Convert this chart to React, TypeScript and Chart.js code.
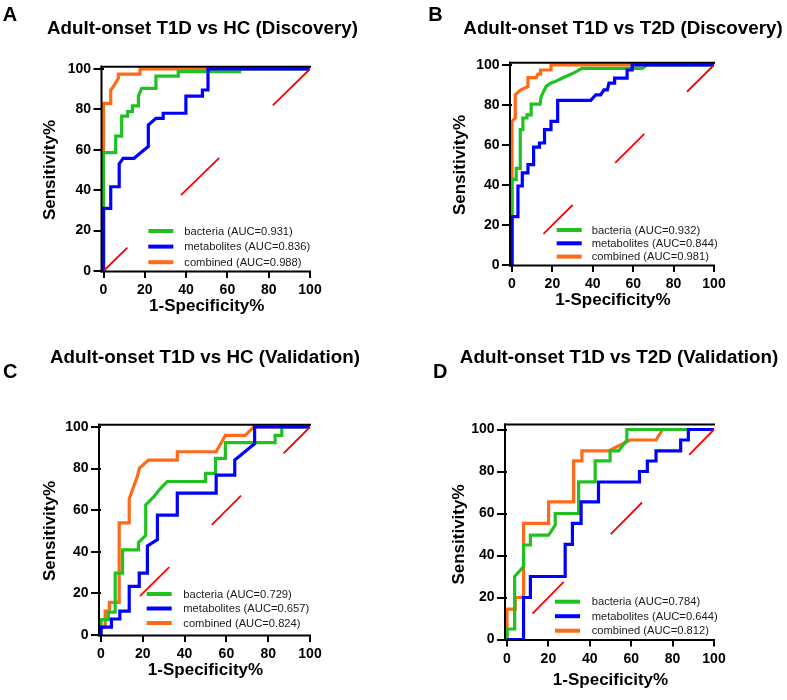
import React, { useEffect, useRef } from "react";
import { Chart, registerables } from "chart.js";

Chart.register(...registerables);

const FONT = "'Liberation Sans', Arial, Helvetica, sans-serif";

// ---------------- data ----------------
const TICK_VALUES = [0, 20, 40, 60, 80, 100];
const SERIES_NAMES = ["bacteria", "metabolites", "combined"];
const X_TITLE = "1-Specificity%";
const Y_TITLE = "Sensitivity%";
const PANEL_LETTERS = ["A", "B", "C", "D"];
const PANEL_TITLES = [
  "Adult-onset T1D vs HC (Discovery)",
  "Adult-onset T1D vs T2D (Discovery)",
  "Adult-onset T1D vs HC (Validation)",
  "Adult-onset T1D vs T2D (Validation)",
];

const AUC_A = [0.931, 0.836, 0.988];
const AUC_B = [0.932, 0.844, 0.981];
const AUC_C = [0.729, 0.657, 0.824];
const AUC_D = [0.784, 0.644, 0.812];

// reference (chance) line, drawn from (100,100) to (0,0)
const REFERENCE_X = [100, 0];
const REFERENCE_Y = [100, 0];

// Panel A
const A_BACTERIA_FPR = [0, 0, 5.9, 5.9, 8.8, 8.8, 11.7, 11.7, 14, 14, 16.9, 16.9, 18.5, 25.4, 25.4, 36.2, 36.2, 65.9, 65.9, 100];
const A_BACTERIA_TPR = [0, 58.6, 58.6, 66.8, 66.8, 76.7, 76.7, 78.9, 78.9, 81.7, 81.7, 86.6, 90.4, 90.4, 96.5, 96.5, 98.7, 98.7, 100, 100];
const A_METAB_FPR = [0, 0, 3.5, 3.5, 7.6, 7.6, 9.5, 14.8, 17.7, 21.7, 21.7, 25.4, 28.9, 28.9, 39.9, 39.9, 47.9, 47.9, 50.6, 50.6, 100];
const A_METAB_TPR = [0, 31, 31, 41.7, 41.7, 53, 55.8, 55.8, 58.3, 61.6, 72.3, 75.6, 75.6, 78.1, 78.1, 86.6, 86.6, 89.6, 89.6, 100, 100];
const A_COMB_FPR = [0, 0, 3.5, 3.5, 4.8, 7.2, 7.2, 17.7, 17.7, 100];
const A_COMB_TPR = [0, 83, 83, 89.6, 91.3, 95.4, 97.5, 97.5, 100, 100];

// Panel B
const B_BACTERIA_FPR = [0, 0, 2.1, 2.1, 4.1, 4.1, 5.4, 5.4, 7.4, 7.4, 9.5, 9.5, 13.9, 14.4, 16.1, 16.9, 19.3, 21.4, 24.7, 27.2, 31.3, 34.6, 64.5, 66.9, 100];
const B_BACTERIA_TPR = [0, 42.8, 42.8, 48.3, 48.3, 67.7, 67.7, 73.5, 73.5, 75.1, 75.1, 80.4, 80.4, 84.1, 87.6, 89.3, 91, 91.7, 93.4, 94.5, 96.4, 98.3, 98.3, 100, 100];
const B_METAB_FPR = [0, 0, 2.95, 2.95, 5.1, 5.1, 7.9, 7.9, 10.7, 10.7, 13.6, 13.6, 16.1, 16.1, 19.3, 19.3, 22.6, 22.6, 39, 41.5, 43.9, 45.5, 47.2, 48, 50.8, 50.8, 57, 57, 59.5, 59.5, 100];
const B_METAB_TPR = [0, 24.2, 24.2, 39.5, 39.5, 46.1, 46.1, 50.2, 50.2, 58.9, 58.9, 61, 61, 67.7, 67.7, 71.8, 71.8, 82.3, 82.3, 85.1, 85.1, 87.6, 87.6, 90.9, 90.9, 93.4, 93.4, 97.5, 97.5, 100, 100];
const B_COMB_FPR = [0, 0, 1.6, 1.6, 4.3, 7.9, 7.9, 12, 12.8, 14.1, 14.1, 19.3, 19.3, 100];
const B_COMB_TPR = [0, 71.8, 73.5, 85.1, 87.6, 89.2, 93.7, 93.7, 95.4, 95.4, 97.5, 97.5, 100, 100];

// Panel C
const C_BACTERIA_FPR = [0, 0, 3.5, 3.5, 6.8, 6.8, 10.3, 10.3, 17.9, 17.9, 21.4, 21.4, 25.4, 28.3, 31.7, 50, 50, 54.8, 54.8, 59.5, 59.5, 83.3, 83.3, 86.5, 86.5, 100];
const C_BACTERIA_TPR = [0, 7.4, 7.4, 11, 11, 29.7, 29.7, 40.9, 40.9, 44.4, 47.9, 62.6, 66.6, 70.3, 73.8, 73.8, 77.7, 77.7, 84.9, 84.9, 92.5, 92.5, 96, 96, 100, 100];
const C_METAB_FPR = [0, 0, 5, 5, 9, 9, 13.5, 13.5, 18.3, 18.3, 22.2, 22.2, 27, 27, 36.5, 36.5, 55.1, 55.1, 64, 64, 73.5, 73.5, 100];
const C_METAB_TPR = [0, 3.8, 3.8, 7.7, 7.7, 11.5, 11.5, 23.4, 23.4, 29.7, 29.7, 42.8, 45.9, 57.6, 57.6, 68.2, 68.2, 76.9, 76.9, 84.1, 92, 100, 100];
const C_COMB_FPR = [0, 0, 2, 2, 4, 4, 8.7, 8.7, 13.5, 13.5, 17.5, 18.3, 22.7, 36.5, 36.5, 55.1, 59.5, 69, 73, 100];
const C_COMB_TPR = [0, 3.8, 3.8, 11.5, 11.5, 15.7, 15.7, 53.9, 53.9, 65.5, 76.6, 80.1, 84.1, 84.1, 88.1, 88.1, 96, 96, 100, 100];

// Panel D
const D_BACTERIA_FPR = [0, 0, 3.7, 3.7, 8, 8, 11.3, 11.3, 20.1, 23.3, 23.3, 34.6, 34.6, 42.6, 42.6, 49.8, 49.8, 53.9, 57.9, 57.9, 100];
const D_BACTERIA_TPR = [0, 5, 5, 30, 34.7, 45, 45, 49.7, 49.7, 54.5, 60, 60, 75.1, 75.1, 85.1, 85.1, 89.8, 89.8, 94.9, 100, 100];
const D_METAB_FPR = [0, 8, 8, 11.3, 11.3, 28.1, 28.1, 31.6, 31.6, 35.8, 35.8, 44.2, 44.2, 64, 64, 67.8, 67.8, 72, 72, 83.9, 83.9, 87.6, 87.6, 100];
const D_METAB_TPR = [0, 0, 20, 20, 30, 30, 45.3, 45.3, 55.3, 55.3, 65.5, 65.5, 75, 75, 80, 80, 85, 85, 89.8, 89.8, 95, 95, 100, 100];
const D_COMB_FPR = [0, 0, 4, 4, 8, 8, 20.1, 20.1, 32.2, 32.2, 36.2, 36.2, 49, 59.5, 72, 75.2, 100];
const D_COMB_TPR = [0, 14.5, 14.5, 20, 20, 55.3, 55.3, 65.5, 65.5, 85.1, 85.1, 89.8, 89.8, 95, 95, 100, 100];

// ---------------- styles ----------------
const SERIES_COLORS = ["#20c220", "#0000ff", "#ff6a18"];
const SERIES_ORDER = [2, 1, 3]; // blue on top, then green, orange beneath
const REF_COLOR = "#ff0000";

type Box = { left: number; top: number; width: number; height: number };
type Area = { left: number; right: number; top: number; bottom: number };
type PanelSpec = {
  letter: string;
  title: string;
  auc: number[];
  curves: [number[], number[]][];
  box: Box;
  area: Area;
  yTitleX: number;
  xTitleOffset: number;
  topGap: number;
  titleX: number;
  titleBaseline: number;
  letterX: number;
  letterBaseline: number;
  legend: { sampleX: number; firstRow: number; rowGap: number; textGap: number };
  dash: number[];
  dashOffset: number;
};

const PANELS: PanelSpec[] = [
  {
    letter: PANEL_LETTERS[0],
    title: PANEL_TITLES[0],
    auc: AUC_A,
    curves: [
      [A_BACTERIA_FPR, A_BACTERIA_TPR],
      [A_METAB_FPR, A_METAB_TPR],
      [A_COMB_FPR, A_COMB_TPR],
    ],
    box: { left: 0, top: 0, width: 393, height: 340 },
    area: { left: 103.5, right: 310, top: 69, bottom: 271 },
    yTitleX: 50.5,
    xTitleOffset: 35.5,
    topGap: 2.3,
    titleX: 202.4,
    titleBaseline: 33.5,
    letterX: 2.7,
    letterBaseline: 20.7,
    legend: { sampleX: 44.8, firstRow: -40, rowGap: 15.6, textGap: 36 },
    dash: [53.5, 75],
    dashOffset: 1.5,
  },
  {
    letter: PANEL_LETTERS[1],
    title: PANEL_TITLES[1],
    auc: AUC_B,
    curves: [
      [B_BACTERIA_FPR, B_BACTERIA_TPR],
      [B_METAB_FPR, B_METAB_TPR],
      [B_COMB_FPR, B_COMB_TPR],
    ],
    box: { left: 393, top: 0, width: 394, height: 340 },
    area: { left: 119, right: 321, top: 65, bottom: 265 },
    yTitleX: 67,
    xTitleOffset: 35.5,
    topGap: 2.3,
    titleX: 230,
    titleBaseline: 33.5,
    letterX: 35.3,
    letterBaseline: 20.7,
    legend: { sampleX: 44.7, firstRow: -35, rowGap: 13.3, textGap: 35 },
    dash: [41, 60],
    dashOffset: 3,
  },
  {
    letter: PANEL_LETTERS[2],
    title: PANEL_TITLES[2],
    auc: AUC_C,
    curves: [
      [C_BACTERIA_FPR, C_BACTERIA_TPR],
      [C_METAB_FPR, C_METAB_TPR],
      [C_COMB_FPR, C_COMB_TPR],
    ],
    box: { left: 0, top: 340, width: 393, height: 360 },
    area: { left: 101, right: 310, top: 87, bottom: 295 },
    yTitleX: 50,
    xTitleOffset: 35.5,
    topGap: 2.3,
    titleX: 205,
    titleBaseline: 23.3,
    letterX: 3,
    letterBaseline: 38,
    legend: { sampleX: 45.7, firstRow: -41, rowGap: 14.5, textGap: 36.6 },
    dash: [41.3, 60],
    dashOffset: 4,
  },
  {
    letter: PANEL_LETTERS[3],
    title: PANEL_TITLES[3],
    auc: AUC_D,
    curves: [
      [D_BACTERIA_FPR, D_BACTERIA_TPR],
      [D_METAB_FPR, D_METAB_TPR],
      [D_COMB_FPR, D_COMB_TPR],
    ],
    box: { left: 393, top: 340, width: 394, height: 360 },
    area: { left: 114, right: 321, top: 89.5, bottom: 299.5 },
    yTitleX: 66,
    xTitleOffset: 41,
    topGap: 5,
    titleX: 226,
    titleBaseline: 23.3,
    letterX: 40,
    letterBaseline: 38,
    legend: { sampleX: 48, firstRow: -37.8, rowGap: 14.5, textGap: 36.7 },
    dash: [44.5, 67],
    dashOffset: 9,
  },
];

const TITLE_FONT_SIZE = 17;
const TITLE_LINE_HEIGHT = TITLE_FONT_SIZE * 1.2;

function decorPlugin(spec: PanelSpec) {
  return {
    id: "rocDecor",
    afterDatasetsDraw(chart: any) {
      const { ctx, chartArea: a } = chart;
      const L = a.left - 2;
      ctx.save();
      ctx.strokeStyle = "#000";
      ctx.lineWidth = 2;
      ctx.lineCap = "butt";
      // left axis
      ctx.beginPath();
      ctx.moveTo(L, a.bottom + 1.5);
      ctx.lineTo(L, a.top - spec.topGap - 1);
      ctx.stroke();
      // bottom axis
      ctx.beginPath();
      ctx.moveTo(L - 1, a.bottom + 0.5);
      ctx.lineTo(a.right + 1, a.bottom + 0.5);
      ctx.stroke();
      // top frame line
      ctx.beginPath();
      ctx.moveTo(L - 1, a.top - spec.topGap);
      ctx.lineTo(a.right + 1, a.top - spec.topGap);
      ctx.stroke();

      // legend inside plot
      const lg = spec.legend;
      ctx.font = `11.2px ${FONT}`;
      ctx.textBaseline = "middle";
      ctx.textAlign = "left";
      SERIES_NAMES.forEach((name, i) => {
        const y = a.bottom + lg.firstRow + i * lg.rowGap;
        const x0 = a.left + lg.sampleX;
        ctx.strokeStyle = SERIES_COLORS[i];
        ctx.lineWidth = 4;
        ctx.beginPath();
        ctx.moveTo(x0, y);
        ctx.lineTo(x0 + 25, y);
        ctx.stroke();
        ctx.fillStyle = "#1a1a1a";
        ctx.fillText(`${name} (AUC=${spec.auc[i].toFixed(3)})`, x0 + lg.textGap, y + 0.5);
      });
      ctx.restore();
    },
    afterDraw(chart: any) {
      const { ctx } = chart;
      ctx.save();
      ctx.fillStyle = "#000";
      ctx.textBaseline = "alphabetic";
      ctx.textAlign = "center";
      ctx.font = `bold 18.8px ${FONT}`;
      ctx.fillText(spec.title, spec.titleX, spec.titleBaseline);
      ctx.textAlign = "left";
      ctx.font = `bold 20px ${FONT}`;
      ctx.fillText(spec.letter, spec.letterX, spec.letterBaseline);
      ctx.restore();
    },
  };
}

function setTicks(scale: any) {
  scale.ticks = TICK_VALUES.map((v) => ({ value: v }));
}

function RocPanel({ spec }: { spec: PanelSpec }) {
  const ref = useRef<HTMLCanvasElement | null>(null);
  useEffect(() => {
    const canvas = ref.current;
    if (!canvas) return;
    const xAxisHeight = spec.xTitleOffset + TITLE_LINE_HEIGHT / 2;
    const datasets: any[] = [
      {
        label: "reference",
        data: REFERENCE_X.map((x, i) => ({ x, y: REFERENCE_Y[i] })),
        borderColor: REF_COLOR,
        borderWidth: 1.8,
        borderDash: spec.dash,
        borderDashOffset: spec.dashOffset,
        order: 0,
        clip: false,
      },
      ...spec.curves.map((c, i) => ({
        label: SERIES_NAMES[i],
        data: c[0].map((x, j) => ({ x, y: c[1][j] })),
        borderColor: SERIES_COLORS[i],
        borderWidth: 3.2,
        order: SERIES_ORDER[i],
        clip: false,
      })),
    ];
    const tickFont = { family: FONT, size: 14, weight: "bold" as const };
    const titleFont = { family: FONT, size: TITLE_FONT_SIZE, weight: "bold" as const };
    const chart = new Chart(canvas, {
      type: "line",
      data: { datasets },
      options: {
        animation: false,
        responsive: false,
        maintainAspectRatio: false,
        devicePixelRatio: 1,
        events: [],
        elements: {
          point: { radius: 0 },
          line: { tension: 0, borderJoinStyle: "miter", borderCapStyle: "butt", fill: false },
        },
        layout: {
          padding: {
            left: 0,
            top: spec.area.top,
            right: spec.box.width - spec.area.right,
            bottom: spec.box.height - spec.area.bottom - xAxisHeight,
          },
        },
        plugins: {
          legend: { display: false },
          tooltip: { enabled: false },
          title: { display: false },
        },
        scales: {
          x: {
            type: "linear",
            position: "bottom",
            min: 0,
            max: 100,
            afterBuildTicks: setTicks,
            afterFit: (s: any) => {
              s.height = xAxisHeight;
            },
            border: { display: false },
            grid: {
              display: true,
              drawOnChartArea: false,
              drawTicks: true,
              tickLength: 7,
              tickWidth: 2,
              tickColor: "#000",
              color: "#000",
              lineWidth: 2,
            },
            ticks: { font: tickFont, color: "#000", padding: 4, maxRotation: 0, autoSkip: false },
            title: { display: true, text: X_TITLE, font: titleFont, color: "#000", padding: { top: 0, bottom: 0 } },
          },
          y: {
            type: "linear",
            position: "left",
            min: 0,
            max: 100,
            afterBuildTicks: setTicks,
            afterFit: (s: any) => {
              s.width = spec.area.left;
            },
            border: { display: false },
            grid: {
              display: true,
              drawOnChartArea: false,
              drawTicks: true,
              tickLength: 10,
              tickWidth: 2,
              tickColor: "#000",
              color: "#000",
              lineWidth: 2,
            },
            ticks: { font: tickFont, color: "#000", padding: 2.5, autoSkip: false },
            title: {
              display: true,
              text: Y_TITLE,
              font: titleFont,
              color: "#000",
              padding: { top: spec.yTitleX - TITLE_LINE_HEIGHT / 2, bottom: 0 },
            },
          },
        },
      } as any,
      plugins: [decorPlugin(spec)],
    });
    return () => chart.destroy();
  }, [spec]);

  return (
    <canvas
      ref={ref}
      width={spec.box.width}
      height={spec.box.height}
      style={{
        position: "absolute",
        left: spec.box.left,
        top: spec.box.top,
        width: spec.box.width,
        height: spec.box.height,
      }}
    />
  );
}

export default function App() {
  return (
    <div
      style={{
        position: "absolute",
        left: 0,
        top: 0,
        width: 787,
        height: 700,
        background: "#fff",
        overflow: "hidden",
      }}
    >
      {PANELS.map((p) => (
        <RocPanel key={p.letter} spec={p} />
      ))}
    </div>
  );
}
